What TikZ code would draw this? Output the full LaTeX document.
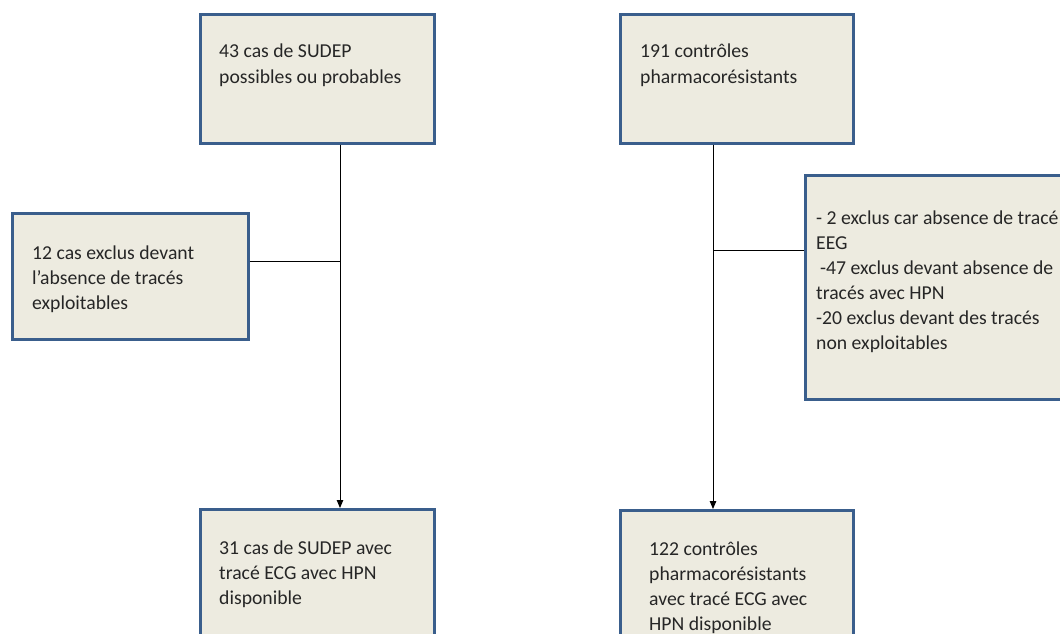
\documentclass[tikz,border=0pt]{standalone}
\usepackage{fontspec}
\setmainfont{Carlito}
\usetikzlibrary{arrows.meta,positioning}
\definecolor{boxfill}{RGB}{237,235,224}
\definecolor{boxline}{RGB}{58,94,140}

\begin{document}
\begin{tikzpicture}[x=1pt,y=-1pt,
    box/.style={draw=boxline, fill=boxfill, line width=2.6pt, inner sep=0pt, anchor=north west},
    txt/.style={font=\fontsize{19.7}{25}\selectfont, text=black!85, align=left, inner sep=0pt, anchor=base west},
    link/.style={black, line width=0.9pt},
    arr/.style={link, -{Triangle[length=8pt,width=6.5pt]}}
]
\useasboundingbox (0,0) rectangle (1060,634);
\clip (0,0) rectangle (1060,634);
\fill[white] (0,0) rectangle (1060,634);

% Boxes
\node[box, minimum width=234pt, minimum height=129pt] (cas) at (199,13) {};
\node[box, minimum width=233pt, minimum height=129pt] (ctrl) at (619,13) {};
\node[box, minimum width=236pt, minimum height=126pt] (exclcas) at (11,212) {};
\node[box, minimum width=280pt, minimum height=224pt] (exclctrl) at (804,174) {};
\node[box, minimum width=234pt, minimum height=160pt] (casdisp) at (199,508) {};
\node[box, minimum width=233pt, minimum height=160pt] (ctrldisp) at (619,509) {};

% Texts (anchored on the baseline of the last line)
\node[txt] (castxt) at ([shift={(20,70)}]cas.north west) {43 cas de SUDEP\\possibles ou probables};
\node[txt] (ctrltxt) at ([shift={(21,70)}]ctrl.north west) {191 contrôles\\pharmacorésistants};
\node[txt] (exclcastxt) at ([shift={(21,97)}]exclcas.north west) {12 cas exclus devant\\l’absence de tracés\\exploitables};
\node[txt] (exclctrltxt) at ([shift={(12,175)}]exclctrl.north west) {- 2 exclus car absence de tracé\\EEG\\\hspace{4pt}-47 exclus devant absence de\\tracés avec HPN\\-20 exclus devant des tracés\\non exploitables};
\node[txt] (casdisptxt) at ([shift={(20,96)}]casdisp.north west) {31 cas de SUDEP avec\\tracé ECG avec HPN\\disponible};
\node[txt] (ctrldisptxt) at ([shift={(30,121)}]ctrldisp.north west) {122 contrôles\\pharmacorésistants\\avec tracé ECG avec\\HPN disponible};

% Connectors
\coordinate (jl) at (340,261);
\coordinate (jr) at (713,250);
\draw[arr] (cas.south -| jl) -- (casdisp.north -| jl);
\draw[arr] (ctrl.south -| jr) -- (ctrldisp.north -| jr);
\draw[link] (exclcas.east |- jl) -- (jl);
\draw[link] (jr) -- (exclctrl.west |- jr);
\end{tikzpicture}
\end{document}
